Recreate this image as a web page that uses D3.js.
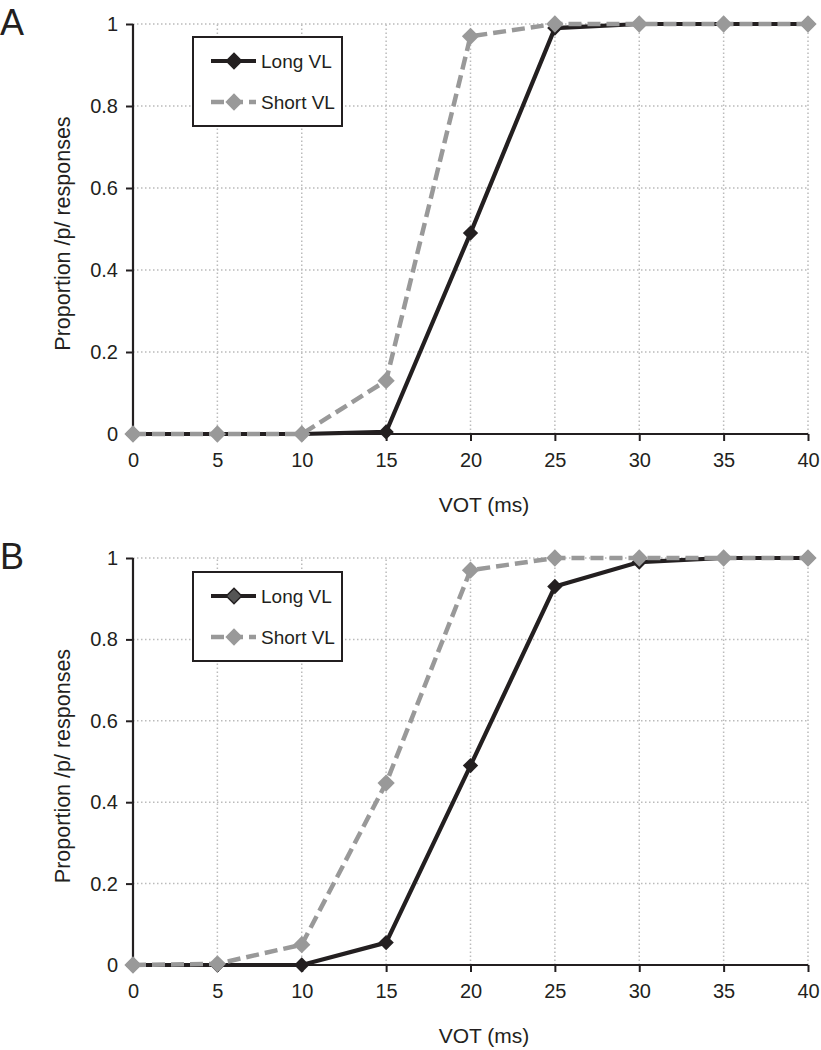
<!DOCTYPE html>
<html><head><meta charset="utf-8">
<script src="https://cdn.jsdelivr.net/npm/d3@7"></script>
<style>body{margin:0;background:#fff}svg{display:block}text{font-family:"Liberation Sans",Arial,sans-serif;fill:#231f20}</style>
</head><body>
<script>
const vot = [0, 5, 10, 15, 20, 25, 30, 35, 40];
const xTicks = [0, 5, 10, 15, 20, 25, 30, 35, 40];
const yTicks = [0, 0.2, 0.4, 0.6, 0.8, 1];
const yTickLabels = ["0", "0.2", "0.4", "0.6", "0.8", "1"];
const seriesNames = ["Long VL", "Short VL"];
const panelALong = [0, 0, 0, 0.005, 0.49, 0.99, 1, 1, 1];
const panelAShort = [0, 0, 0, 0.13, 0.97, 1, 1, 1, 1];
const panelBLong = [0, 0, 0, 0.055, 0.49, 0.93, 0.99, 1, 1];
const panelBShort = [0, 0.003, 0.05, 0.447, 0.97, 1, 1, 1, 1];

const W = 821, H = 1050;
const svg = d3.select("body").append("svg").attr("width", W).attr("height", H);

const panels = [
  {label: "A", top: 24, bottom: 434, long: panelALong, short: panelAShort, legendTop: 37, legendLongFill: "#231f20"},
  {label: "B", top: 558, bottom: 965, long: panelBLong, short: panelBShort, legendTop: 572, legendLongFill: "#555"}
];
const left = 133, right = 808;
const ink = "#231f20", grey = "#999999";
const diamond = d3.symbol().type(d3.symbolDiamond2 || d3.symbolDiamond);

panels.forEach(p => {
  const g = svg.append("g");
  const x = d3.scaleLinear().domain([0, 40]).range([left, right]);
  const y = d3.scaleLinear().domain([0, 1]).range([p.bottom, p.top]);

  // grid
  g.selectAll(".vg").data(xTicks.slice(1)).enter().append("line")
    .attr("x1", d => x(d)).attr("x2", d => x(d)).attr("y1", y(0)).attr("y2", y(1))
    .attr("stroke", "#bbb").attr("stroke-width", 1.5).attr("stroke-dasharray", "1.5,2.5");
  g.selectAll(".hg").data(yTicks.slice(1)).enter().append("line")
    .attr("x1", x(0)).attr("x2", x(40)).attr("y1", d => y(d)).attr("y2", d => y(d))
    .attr("stroke", "#bbb").attr("stroke-width", 1.5).attr("stroke-dasharray", "1.5,2.5");

  // axes
  const xAxis = g.append("g").attr("transform", `translate(0,${y(0)})`)
    .call(d3.axisBottom(x).tickValues(xTicks).tickSize(7).tickPadding(12).tickFormat(d3.format("d")));
  const yAxis = g.append("g").attr("transform", `translate(${x(0)},0)`)
    .call(d3.axisLeft(y).tickValues(yTicks).tickSize(7).tickPadding(8).tickFormat((d, i) => yTickLabels[i]));
  [xAxis, yAxis].forEach(a => {
    a.select(".domain").attr("stroke", ink).attr("stroke-width", 2.2);
    a.selectAll(".tick line").attr("stroke", ink).attr("stroke-width", 2);
    a.selectAll(".tick text").attr("font-size", 20).style("fill", ink);
  });
  xAxis.select(".domain").attr("d", `M${x(0)},0H${x(40)}`);
  xAxis.selectAll(".tick").filter(d => d === 0).select("line").remove();
  yAxis.select(".domain").attr("d", `M0,${y(0)}V${y(1)}`);

  // titles
  g.append("text").attr("x", 484).attr("y", p.bottom + 78)
    .attr("text-anchor", "middle").attr("font-size", 21).text("VOT (ms)");
  g.append("text").attr("transform", `translate(70,${(p.top + p.bottom) / 2 + 4.5}) rotate(-90)`)
    .attr("text-anchor", "middle").attr("font-size", 21.5).text("Proportion /p/ responses");
  g.append("text").attr("x", 0).attr("y", p.top + 11).attr("font-size", 36).text(p.label);

  const line = d3.line().x((d, i) => x(vot[i])).y(d => y(d));
  // Long VL
  g.append("path").datum(p.long).attr("d", line).attr("fill", "none")
    .attr("stroke", ink).attr("stroke-width", 4.2).attr("stroke-linejoin", "miter");
  g.selectAll(".lm").data(p.long).enter().append("path")
    .attr("transform", (d, i) => `translate(${x(vot[i])},${y(d)})`)
    .attr("d", diamond.size(150)).attr("fill", ink);
  // Short VL
  g.append("path").datum(p.short).attr("d", line).attr("fill", "none")
    .attr("stroke", grey).attr("stroke-width", 4.5).attr("stroke-dasharray", "13,6");
  g.selectAll(".sm").data(p.short).enter().append("path")
    .attr("transform", (d, i) => `translate(${x(vot[i])},${y(d)})`)
    .attr("d", diamond.size(190)).attr("fill", grey);

  // legend
  const lg = g.append("g");
  const lt = p.legendTop;
  lg.append("rect").attr("x", 193).attr("y", lt).attr("width", 149).attr("height", 89)
    .attr("fill", "#fff").attr("stroke", ink).attr("stroke-width", 2);
  const rows = [lt + 24, lt + 65];
  lg.append("line").attr("x1", 211).attr("x2", 256).attr("y1", rows[0]).attr("y2", rows[0])
    .attr("stroke", ink).attr("stroke-width", 4.2);
  lg.append("path").attr("transform", `translate(234,${rows[0]})`).attr("d", diamond.size(150))
    .attr("fill", p.legendLongFill).attr("stroke", ink).attr("stroke-width", 1.5);
  lg.append("line").attr("x1", 211).attr("x2", 256).attr("y1", rows[1]).attr("y2", rows[1])
    .attr("stroke", grey).attr("stroke-width", 4.5).attr("stroke-dasharray", "13,6");
  lg.append("path").attr("transform", `translate(234,${rows[1]})`).attr("d", diamond.size(190)).attr("fill", grey);
  seriesNames.forEach((n, i) => {
    lg.append("text").attr("x", 261).attr("y", rows[i] + 7).attr("font-size", 19).text(n);
  });
});
</script>
</body></html>
